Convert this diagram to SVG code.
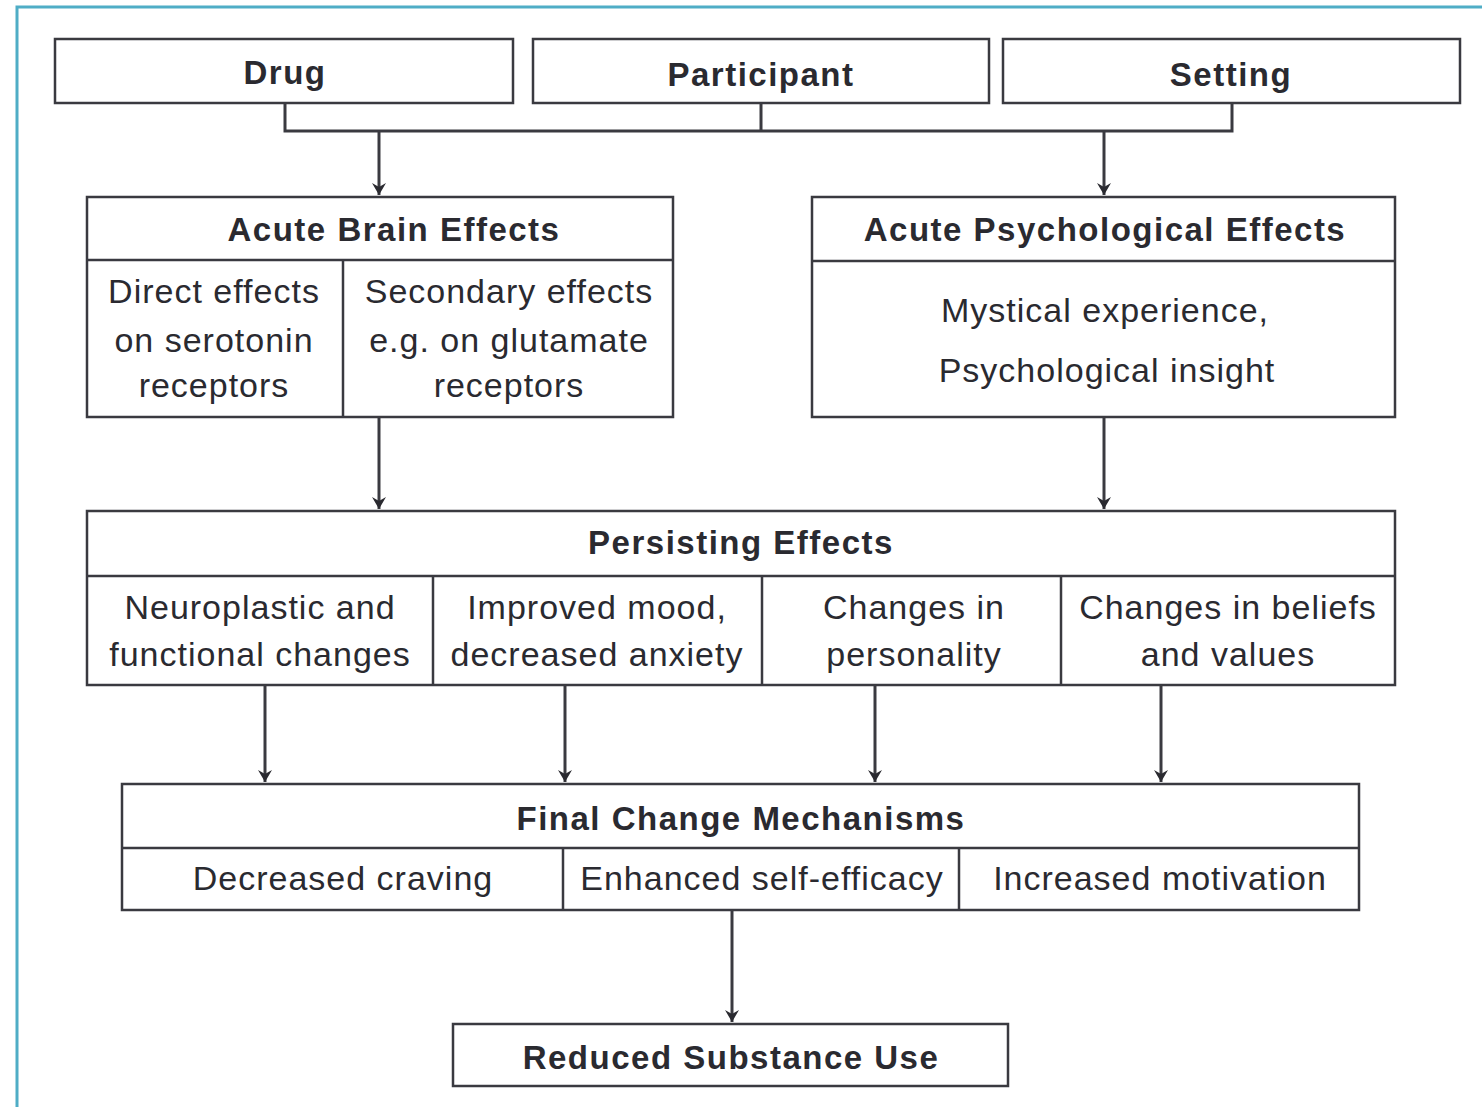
<svg xmlns="http://www.w3.org/2000/svg" width="1482" height="1107" viewBox="0 0 1482 1107">
<style>
.box{fill:#fff;stroke:#3a3a40;stroke-width:2.5}
.ln{fill:none;stroke:#3a3a40;stroke-width:2.5}
.con{fill:none;stroke:#3a3a40;stroke-width:3}
text{font-family:"Liberation Sans",Arial,sans-serif;font-size:34px;letter-spacing:1px;fill:#2a2a30;text-anchor:middle}
.b{font-weight:bold;font-size:33px;letter-spacing:1.5px}
</style>
<defs>
<marker id="ah" viewBox="0 0 14 14" refX="12" refY="7" markerWidth="14" markerHeight="14" markerUnits="userSpaceOnUse" orient="auto">
<path d="M0,0 L12,7 L0,14 L4,7 Z" fill="#2a2a30"/>
</marker>
</defs>
<rect width="1482" height="1107" fill="#fff"/>
<path d="M17,1107 V7 H1482" fill="none" stroke="#4fadc6" stroke-width="3"/>

<g id="drug"><rect class="box" x="55" y="39" width="458" height="64"/><text class="b" x="285" y="84">Drug</text></g>
<g id="participant"><rect class="box" x="533" y="39" width="456" height="64"/><text class="b" x="761" y="86">Participant</text></g>
<g id="setting"><rect class="box" x="1003" y="39" width="457" height="64"/><text class="b" x="1231" y="86">Setting</text></g>

<g id="acute-brain">
<rect class="box" x="87" y="197" width="586" height="220"/>
<line class="ln" x1="87" y1="260" x2="673" y2="260"/>
<line class="ln" x1="343" y1="260" x2="343" y2="417"/>
<text class="b" x="394" y="241">Acute Brain Effects</text>
<text x="214" y="303">Direct effects</text>
<text x="214" y="352">on serotonin</text>
<text x="214" y="397">receptors</text>
<text x="509" y="303">Secondary effects</text>
<text x="509" y="352">e.g. on glutamate</text>
<text x="509" y="397">receptors</text>
</g>

<g id="acute-psych">
<rect class="box" x="812" y="197" width="583" height="220"/>
<line class="ln" x1="812" y1="261" x2="1395" y2="261"/>
<text class="b" x="1105" y="241">Acute Psychological Effects</text>
<text x="1105" y="322">Mystical experience,</text>
<text x="1107" y="382">Psychological insight</text>
</g>

<g id="persisting">
<rect class="box" x="87" y="511" width="1308" height="174"/>
<line class="ln" x1="87" y1="576" x2="1395" y2="576"/>
<line class="ln" x1="433" y1="576" x2="433" y2="685"/>
<line class="ln" x1="762" y1="576" x2="762" y2="685"/>
<line class="ln" x1="1061" y1="576" x2="1061" y2="685"/>
<text class="b" x="741" y="554">Persisting Effects</text>
<text x="260" y="619">Neuroplastic and</text>
<text x="260" y="666">functional changes</text>
<text x="597" y="619">Improved mood,</text>
<text x="597" y="666">decreased anxiety</text>
<text x="914" y="619">Changes in</text>
<text x="914" y="666">personality</text>
<text x="1228" y="619">Changes in beliefs</text>
<text x="1228" y="666">and values</text>
</g>

<g id="final">
<rect class="box" x="122" y="784" width="1237" height="126"/>
<line class="ln" x1="122" y1="848" x2="1359" y2="848"/>
<line class="ln" x1="563" y1="848" x2="563" y2="910"/>
<line class="ln" x1="959" y1="848" x2="959" y2="910"/>
<text class="b" x="741" y="830">Final Change Mechanisms</text>
<text x="343" y="890">Decreased craving</text>
<text x="762" y="890">Enhanced self-efficacy</text>
<text x="1160" y="890">Increased motivation</text>
</g>

<g id="reduced"><rect class="box" x="453" y="1024" width="555" height="62"/><text class="b" x="731" y="1069">Reduced Substance Use</text></g>

<g id="connectors">
<path class="con" d="M285,103 V131 H1232 V103 M761,103 V131"/>
<line class="con" x1="379" y1="131" x2="379" y2="195" marker-end="url(#ah)"/>
<line class="con" x1="1104" y1="131" x2="1104" y2="195" marker-end="url(#ah)"/>
<line class="con" x1="379" y1="417" x2="379" y2="509" marker-end="url(#ah)"/>
<line class="con" x1="1104" y1="417" x2="1104" y2="509" marker-end="url(#ah)"/>
<line class="con" x1="265" y1="685" x2="265" y2="782" marker-end="url(#ah)"/>
<line class="con" x1="565" y1="685" x2="565" y2="782" marker-end="url(#ah)"/>
<line class="con" x1="875" y1="685" x2="875" y2="782" marker-end="url(#ah)"/>
<line class="con" x1="1161" y1="685" x2="1161" y2="782" marker-end="url(#ah)"/>
<line class="con" x1="732" y1="910" x2="732" y2="1022" marker-end="url(#ah)"/>
</g>
</svg>
